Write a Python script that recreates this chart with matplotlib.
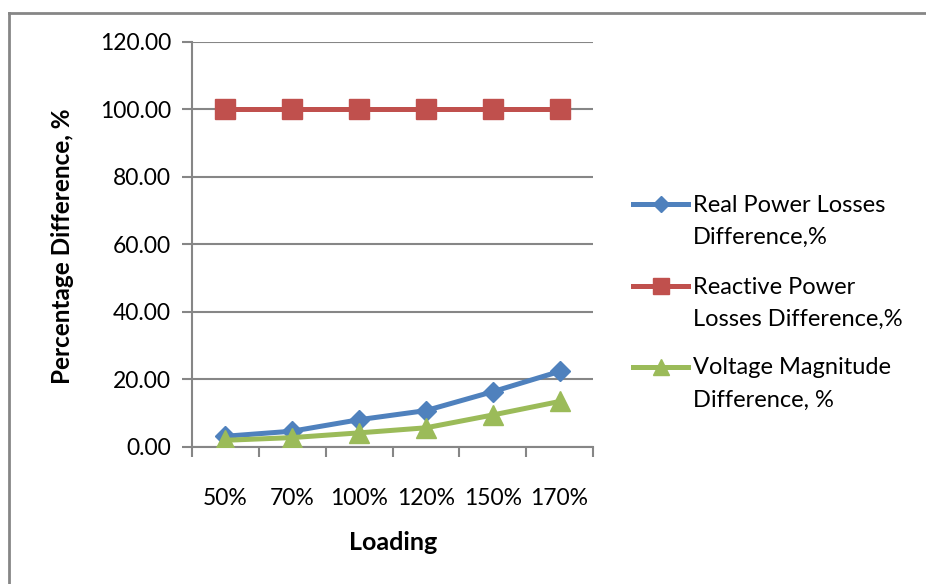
import matplotlib.pyplot as plt
from matplotlib.lines import Line2D

plt.rcParams['font.family'] = ['Lato', 'DejaVu Sans']

loading = ['50%', '70%', '100%', '120%', '150%', '170%']
real_loss = [3.1, 4.6, 8.0, 10.7, 16.3, 22.3]
reactive_loss = [100.0, 100.0, 100.0, 100.0, 100.0, 100.0]
voltage_mag = [1.9, 2.7, 4.1, 5.6, 9.4, 13.4]

labels = [('Real Power Losses', 'Difference,%'),
          ('Reactive Power', 'Losses Difference,%'),
          ('Voltage Magnitude', 'Difference, %')]
colors = ['#4F81BD', '#C0504D', '#9BBB59']
markers = ['D', 's', '^']
msizes = [10.5, 14.5, 14.5]
grey = '#868686'

fig = plt.figure(figsize=(9.26, 5.84), dpi=100)
ax = fig.add_axes([192 / 926, 1 - 446.7 / 584, 401 / 926, 405 / 584])

x = list(range(len(loading)))
for ys, c, m, ms in zip([real_loss, reactive_loss, voltage_mag], colors, markers, msizes):
    ax.plot(x, ys, color=c, lw=3.6, marker=m, ms=ms, mec=c, mfc=c, zorder=3)

ax.set_xlim(-0.5, len(loading) - 0.5)
ax.set_ylim(0, 120)
ax.set_yticks(range(0, 121, 20))
ax.set_yticklabels([f'{v:.2f}' for v in range(0, 121, 20)], fontsize=16.5)
ax.yaxis.grid(True, color=grey, lw=1.5)
ax.set_axisbelow(True)

# category ticks sit between the groups, labels centred under each point
ax.set_xticks([i - 0.5 for i in range(len(loading) + 1)])
ax.set_xticklabels([])
ax.set_xticks(x, minor=True)
ax.set_xticklabels(loading, minor=True, fontsize=16.5)
ax.tick_params(axis='x', which='minor', length=0, pad=30)
ax.tick_params(axis='x', which='major', length=7, width=1.5, color=grey)
ax.tick_params(axis='y', length=7, width=1.5, color=grey, pad=8)

for s in ['top', 'right']:
    ax.spines[s].set_visible(False)
for s in ['left', 'bottom']:
    ax.spines[s].set_color(grey)
    ax.spines[s].set_linewidth(1.5)

fig.text(393 / 926, 1 - 543 / 584, 'Loading', fontsize=18, fontweight='bold',
         ha='center', va='center')
fig.text(62 / 926, 1 - 246 / 584, 'Percentage Difference, %', fontsize=17.5,
         fontweight='bold', rotation=90, ha='center', va='center')

# legend drawn by hand so each marker lines up with the first text line
handle_y = [204, 286, 367]
for hy, (l1, l2), c, m, ms in zip(handle_y, labels, colors, markers, [8, 12, 12]):
    yy = 1 - hy / 584
    fig.add_artist(Line2D([633 / 926, 688 / 926], [yy, yy], color=c, lw=3.6,
                          transform=fig.transFigure))
    fig.add_artist(Line2D([660.5 / 926], [yy], color=c, marker=m, ms=ms,
                          mfc=c, mec=c, transform=fig.transFigure))
    fig.text(693 / 926, 1 - (hy + 1) / 584, l1, fontsize=17, ha='left', va='center')
    fig.text(693 / 926, 1 - (hy + 33) / 584, l2, fontsize=17, ha='left', va='center')

# chart frame: only the top and left edges fall inside the image
top = 1 - 12.5 / 584
left = 8.5 / 926
fig.add_artist(Line2D([left, 1.0], [top, top], color=grey, lw=2,
                      transform=fig.transFigure))
fig.add_artist(Line2D([left, left], [0.0, top], color=grey, lw=2,
                      transform=fig.transFigure))

fig.savefig('out.png', dpi=100)
